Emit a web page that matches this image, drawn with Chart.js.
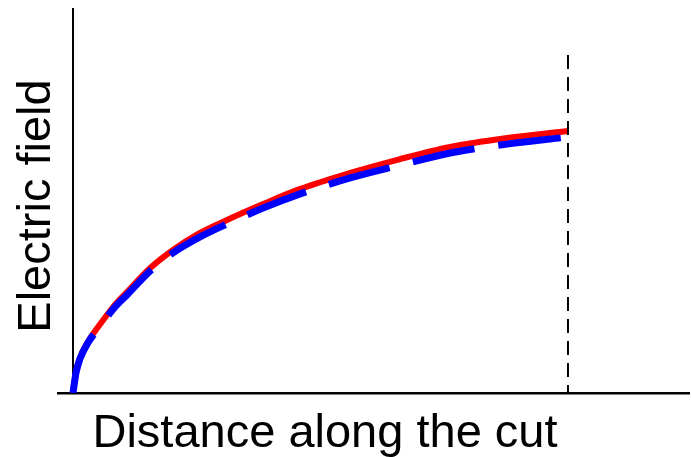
<!doctype html>
<html>

<head>
    <title>Electric field along the cut</title>
    <script src="https://cdn.jsdelivr.net/npm/chart.js@4/dist/chart.umd.min.js"></script>
    <style>
    body { margin: 0; background: #fff; }
    #container { width: 691px; height: 457px; }
    </style>
</head>

<body>
    <div id="container">
        <canvas id="canvas" width="691" height="457"></canvas>
    </div>
    <script>
        // distance along the cut (0 = start, 1 = end of cut)
        var distance = [0, 0.006, 0.014, 0.030, 0.055, 0.081, 0.111, 0.156, 0.202, 0.253, 0.311, 0.384, 0.459, 0.560, 0.661, 0.762, 0.877, 1.0];
        // red solid curve
        var fieldRed = [0, 0.080, 0.134, 0.195, 0.263, 0.328, 0.389, 0.477, 0.546, 0.607, 0.660, 0.721, 0.779, 0.840, 0.893, 0.939, 0.973, 1.0];
        // blue dashed curve
        var fieldBlue = [0, 0.076, 0.130, 0.191, 0.255, 0.320, 0.378, 0.466, 0.535, 0.592, 0.645, 0.706, 0.760, 0.821, 0.870, 0.916, 0.950, 0.977];
        // vertical marker at the end of the cut
        var cutX = [1, 1];
        var cutY = [1.29, 0];

        var xTitle = 'Distance along the cut';
        var yTitle = 'Electric field';

        function pts(xs, ys) {
            return xs.map(function(x, i) { return {x: x, y: ys[i]}; });
        }

        var titles = {
            id: 'titles',
            afterDraw: function(chart) {
                var ctx = chart.ctx;
                ctx.save();
                ctx.fillStyle = '#000';
                ctx.font = '47px "Liberation Sans", Arial, sans-serif';
                ctx.textAlign = 'center';
                ctx.textBaseline = 'alphabetic';
                ctx.fillText(xTitle, 325, 447);
                ctx.translate(50, 206);
                ctx.rotate(-Math.PI / 2);
                ctx.fillText(yTitle, 0, 0);
                ctx.restore();
            }
        };

        function onlyZero(scale) {
            scale.ticks = [{value: 0}];
        }

        var ctx = document.getElementById('canvas').getContext('2d');
        window.myLine = new Chart(ctx, {
            type: 'line',
            data: {
                datasets: [{
                    label: 'cut',
                    data: pts(cutX, cutY),
                    borderColor: '#000',
                    borderWidth: 2,
                    borderDash: [14, 8],
                    pointRadius: 0,
                    fill: false
                }, {
                    label: 'blue',
                    data: pts(distance, fieldBlue),
                    borderColor: '#0000ff',
                    borderWidth: 7,
                    borderDash: [63, 24],
                    borderCapStyle: 'butt',
                    cubicInterpolationMode: 'monotone',
                    pointRadius: 0,
                    fill: false
                }, {
                    label: 'red',
                    data: pts(distance, fieldRed),
                    borderColor: '#ff0000',
                    borderWidth: 6,
                    cubicInterpolationMode: 'monotone',
                    pointRadius: 0,
                    fill: false
                }]
            },
            options: {
                responsive: false,
                devicePixelRatio: 1,
                animation: false,
                layout: {
                    padding: {left: 57, right: 1, top: 8, bottom: 64}
                },
                plugins: {
                    legend: {display: false},
                    tooltip: {enabled: false}
                },
                scales: {
                    x: {
                        type: 'linear',
                        min: -0.0323,
                        max: 1.2465,
                        afterBuildTicks: onlyZero,
                        ticks: {display: false},
                        border: {display: false},
                        grid: {color: '#000', lineWidth: 2, drawTicks: false}
                    },
                    y: {
                        type: 'linear',
                        min: 0,
                        max: 1.4695,
                        afterBuildTicks: onlyZero,
                        ticks: {display: false},
                        border: {display: false},
                        grid: {color: '#000', lineWidth: 2.5, drawTicks: false}
                    }
                }
            },
            plugins: [titles]
        });
    </script>
</body>

</html>
